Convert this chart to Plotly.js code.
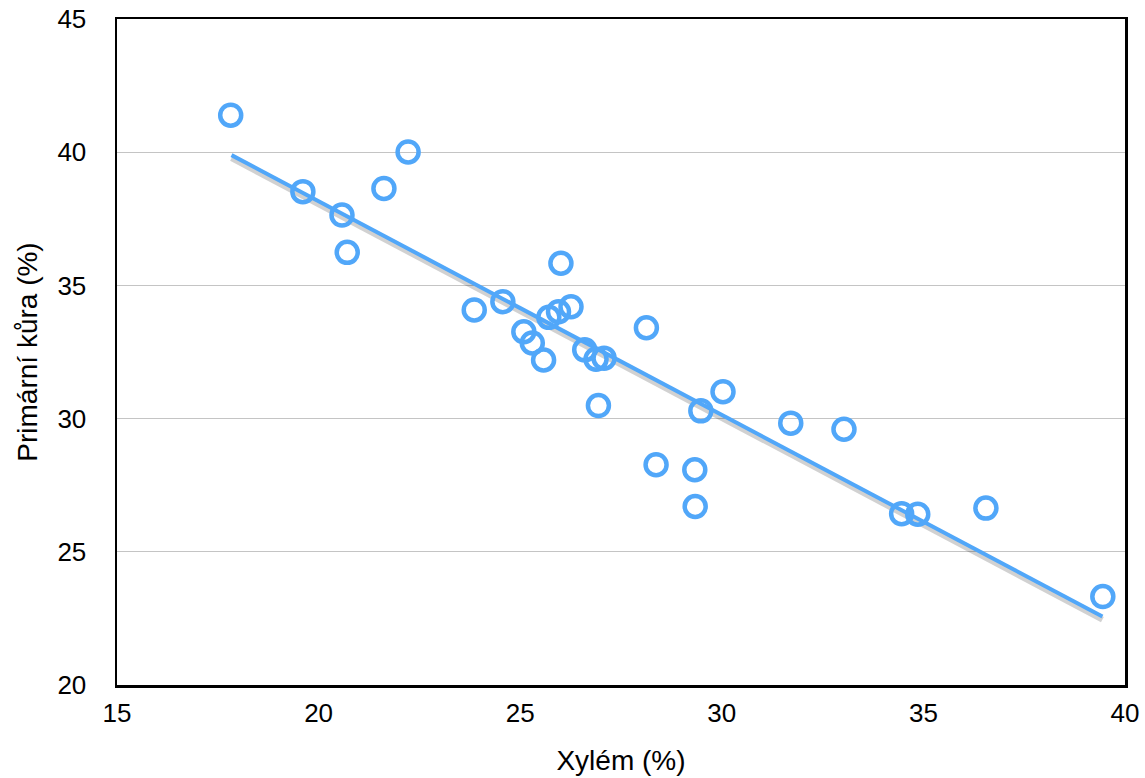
<!DOCTYPE html>
<html>
<head>
<meta charset="utf-8">
<script src="https://cdn.plot.ly/plotly-3.0.1.min.js"></script>
<style>html,body{margin:0;padding:0;background:#fff}#chart{width:1145px;height:778px}</style>
</head>
<body>
<div id="chart"></div>
<script>
// Data
const xylem = [17.82, 19.61, 20.58, 20.71, 21.62, 22.22, 23.86, 24.57, 25.09, 25.30,
               25.58, 25.71, 25.95, 26.01, 26.26, 26.60, 26.88, 27.08, 26.94, 28.13,
               28.37, 29.33, 29.34, 29.48, 30.03, 31.71, 33.03, 34.46, 34.86, 36.55, 39.45];
const kura  = [41.39, 38.52, 37.64, 36.24, 38.64, 40.01, 34.08, 34.39, 33.26, 32.84,
               32.20, 33.80, 34.01, 35.83, 34.20, 32.58, 32.23, 32.27, 30.49, 33.41,
               28.27, 28.08, 26.70, 30.29, 31.01, 29.83, 29.60, 26.43, 26.41, 26.64, 23.32];
// Trend line endpoints
const trendX = [17.84, 39.44];
const trendY = [39.89, 22.57];
const xTicks = [15, 20, 25, 30, 35, 40];
const yTicks = [20, 25, 30, 35, 40, 45];

const W = 1145, H = 778;
const M = {l: 117, r: 20, t: 19, b: 93};
const yRange = [20, 45];
const pxPerUnitY = (H - M.t - M.b) / (yRange[1] - yRange[0]);
const shadowOffset = 3 / pxPerUnitY;
const shadowY = trendY.map(v => v - shadowOffset);

const blue = '#51A7F9';
const font = 'Liberation Sans, Arial, Helvetica, sans-serif';

const traces = [
  {x: trendX, y: shadowY, mode: 'lines', line: {color: 'rgba(0,0,0,0.18)', width: 6}, hoverinfo: 'skip', showlegend: false},
  {x: trendX, y: trendY, mode: 'lines', line: {color: blue, width: 4}, showlegend: false},
  {x: xylem, y: kura, mode: 'markers', showlegend: false,
   marker: {symbol: 'circle-open', size: 21, color: blue, line: {color: blue, width: 4.5}}}
];

const layout = {
  width: W, height: H,
  margin: M,
  paper_bgcolor: '#fff', plot_bgcolor: '#fff',
  font: {family: font, color: '#000', size: 26},
  showlegend: false,
  xaxis: {
    range: [15, 40], tickvals: xTicks, ticktext: xTicks.map(String),
    showgrid: false, zeroline: false,
    showline: true, linecolor: '#000', linewidth: 2.5, mirror: true,
    ticks: 'outside', ticklen: 3, tickcolor: 'rgba(0,0,0,0)',
    tickfont: {family: font, size: 26},
    title: {text: 'Xylém (%)', font: {family: font, size: 28}, standoff: 24}
  },
  yaxis: {
    range: yRange, tickvals: yTicks, ticktext: yTicks.map(String),
    showgrid: true, gridcolor: '#C4C4C4', gridwidth: 1, zeroline: false,
    showline: true, linecolor: '#000', linewidth: 2.5, mirror: true,
    ticks: 'outside', ticklen: 23, tickcolor: 'rgba(0,0,0,0)',
    tickfont: {family: font, size: 26},
    title: {text: 'Primární kůra (%)', font: {family: font, size: 28}, standoff: 12}
  }
};

Plotly.newPlot('chart', traces, layout, {staticPlot: true, displayModeBar: false});
</script>
</body>
</html>
